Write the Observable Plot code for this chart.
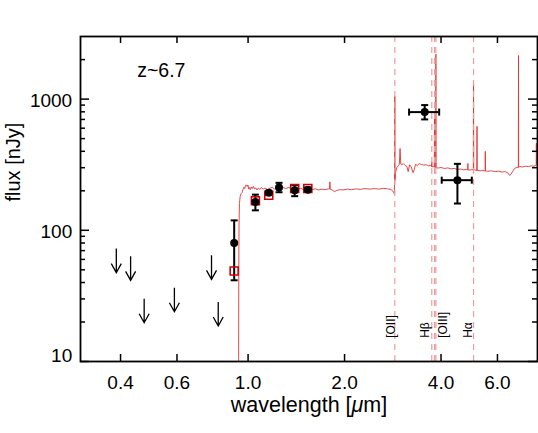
<!DOCTYPE html>
<html><head><meta charset="utf-8">
<script src="https://cdn.jsdelivr.net/npm/d3@7"></script>
<script src="https://cdn.jsdelivr.net/npm/@observablehq/plot@0.6"></script>
<style>body{margin:0;background:#fff;} svg{display:block}</style>
</head><body><div id="chart"></div>
<script>
// ---- data ----
const xTickVals = [0.4, 0.6, 1.0, 2.0, 4.0, 6.0];
const xTickLabels = ["0.4", "0.6", "1.0", "2.0", "4.0", "6.0"];
const yMajor = [10, 100, 1000];
const yMinor = [20, 30, 40, 50, 60, 70, 80, 90, 200, 300, 400, 500, 600, 700, 800, 900, 2000];

const hstWave = [0.905, 1.054, 1.160, 1.249, 1.398, 1.536];
const hstFlux = [80, 164, 193, 212, 202, 204];
const hstLow  = [41.6, 142, 186, 195, 182, 196];
const hstHigh = [119, 187, 200, 230, 221, 212];

const modelWave = [0.905, 1.054, 1.160, 1.398, 1.536];
const modelFlux = [48.9, 168, 185, 208, 208];

const iracWave = [3.557, 4.50];
const iracFlux = [796, 241];
const iracWaveLow = [3.18, 4.02];
const iracWaveHigh = [3.947, 4.99];
const iracLow = [700, 160];
const iracHigh = [900, 321];

const limitWave = [0.388, 0.430, 0.474, 0.589, 0.769, 0.807];
const limitFlux = [72.5, 63.3, 30.1, 36.5, 64.4, 28.4];

const emissionWave = [2.870, 3.743, 3.818, 3.855, 5.053];
const lineLabels = ["[OII]", "Hβ", "[OIII]", "Hα"];
const lineLabelWave = [2.870, 3.743, 3.855, 5.053];

const redshiftLabel = "z~6.7";

// model spectrum [wavelength μm, flux nJy]
const spectrum = [
  [0.900, 0.5], [0.933, 0.5], [0.935, 30], [0.937, 110], [0.940, 160], [0.945, 182],
  [0.951, 190], [0.958, 194], [0.964, 205], [0.970, 213], [0.976, 208], [0.981, 218],
  [0.987, 222], [0.993, 216], [0.999, 221], [1.005, 206], [1.011, 212], [1.017, 204],
  [1.024, 214], [1.031, 208], [1.039, 216], [1.047, 206], [1.056, 211], [1.066, 203],
  [1.077, 210], [1.089, 205], [1.10, 212], [1.115, 206], [1.13, 210], [1.15, 204],
  [1.17, 209], [1.19, 213], [1.21, 206], [1.23, 211], [1.25, 207], [1.28, 213],
  [1.31, 208], [1.34, 212], [1.37, 206], [1.40, 210], [1.43, 205], [1.46, 209],
  [1.50, 203], [1.54, 208], [1.58, 204], [1.62, 207], [1.66, 203], [1.70, 206],
  [1.74, 204], [1.78, 207], [1.795, 206], [1.800, 234], [1.805, 206], [1.83, 203],
  [1.86, 197], [1.89, 201], [1.93, 204], [1.98, 203], [2.04, 206], [2.10, 204],
  [2.17, 207], [2.24, 205], [2.31, 208], [2.40, 206], [2.48, 208], [2.56, 206],
  [2.64, 209], [2.72, 207], [2.79, 205], [2.83, 199], [2.850, 193], [2.860, 190],
  [2.866, 230], [2.870, 1050], [2.874, 240], [2.885, 275], [2.91, 300], [2.94, 310],
  [2.965, 318], [2.980, 420], [2.995, 320], [3.02, 316], [3.05, 323], [3.09, 312],
  [3.13, 306], [3.16, 280], [3.19, 316], [3.23, 304], [3.27, 275], [3.30, 290],
  [3.33, 318], [3.37, 312], [3.42, 322], [3.47, 318], [3.53, 314], [3.60, 316],
  [3.66, 310], [3.71, 312], [3.735, 305], [3.743, 333], [3.751, 305], [3.79, 306],
  [3.812, 304], [3.818, 800], [3.824, 302], [3.848, 302], [3.855, 2200], [3.862, 300],
  [3.92, 298], [4.00, 301], [4.10, 296], [4.20, 299], [4.30, 294], [4.40, 296],
  [4.50, 291], [4.60, 293], [4.70, 289], [4.80, 291], [4.845, 289], [4.851, 323],
  [4.857, 289], [4.93, 288], [5.00, 290], [5.045, 288], [5.053, 1300], [5.060, 292],
  [5.10, 288], [5.172, 286], [5.180, 620], [5.188, 286], [5.30, 284], [5.40, 286],
  [5.490, 283], [5.498, 400], [5.506, 283], [5.60, 282], [5.75, 284], [5.90, 280],
  [6.05, 282], [6.20, 278], [6.35, 280], [6.48, 272], [6.55, 262], [6.62, 268],
  [6.70, 282], [6.78, 296], [6.86, 300], [6.94, 302], [6.972, 300], [6.980, 2150],
  [6.988, 304], [7.05, 306], [7.20, 304], [7.35, 308], [7.50, 306], [7.65, 310],
  [7.80, 308], [7.90, 312], [7.925, 310], [7.935, 460], [7.95, 320]
];

// ---- derived tables ----
const hst = hstWave.map((w, i) => ({w, f: hstFlux[i], lo: hstLow[i], hi: hstHigh[i]}));
const model = modelWave.map((w, i) => ({w, f: modelFlux[i]}));
const irac = iracWave.map((w, i) => ({w, f: iracFlux[i], wlo: iracWaveLow[i], whi: iracWaveHigh[i], lo: iracLow[i], hi: iracHigh[i]}));
const limits = limitWave.map((w, i) => ({w, f: limitFlux[i]}));

// ---- symbols (pixel shapes) ----
const capH = {draw(c) { c.moveTo(-3.5, 0); c.lineTo(3.5, 0); }};
const capV = {draw(c) { c.moveTo(0, -3.5); c.lineTo(0, 3.5); }};
const square = {draw(c) { c.moveTo(-4, -4); c.lineTo(4, -4); c.lineTo(4, 4); c.lineTo(-4, 4); c.closePath(); }};
const downArrow = {draw(c) { c.moveTo(0, 0); c.lineTo(0, 24); c.moveTo(-5, 15); c.lineTo(0, 24); c.lineTo(5, 15); }};

const FONT = "'Liberation Sans', Arial, Helvetica, sans-serif";
const RED = "#de3535";
const DASH = "#ec9c9c";
const plotW = 457, plotH = 325;

const labelDx = {"[OII]": 0, "Hβ": -2.3, "[OIII]": 11.4, "Hα": -1.4};

const chart = Plot.plot({
  width: 538,
  height: 433,
  marginLeft: 80,
  marginRight: 1,
  marginTop: 36,
  marginBottom: 72,
  style: {fontFamily: FONT, background: "white", color: "black"},
  x: {type: "log", domain: [0.3, 8], axis: null},
  y: {type: "log", domain: [10, 3000], axis: null},
  marks: [
    // spectrum
    Plot.line(spectrum, {x: d => d[0], y: d => d[1], stroke: RED, strokeWidth: 0.9, clip: true}),
    // emission line markers
    Plot.ruleX(emissionWave, {x: d => d, stroke: DASH, strokeWidth: 1.2, strokeDasharray: "6,5"}),
    ...lineLabels.map((t, i) => Plot.text([t], {
      x: [lineLabelWave[i]], text: d => d, frameAnchor: "bottom", dy: -23.7, dx: labelDx[t],
      rotate: -90, textAnchor: "start", lineAnchor: "bottom", fontSize: 12, fill: "black"
    })),
    // upper limits
    Plot.dot(limits, {x: "w", y: "f", symbol: downArrow, fill: "none", stroke: "black", strokeWidth: 1.3}),
    // HST error bars
    Plot.ruleX(hst, {x: "w", y1: "lo", y2: "hi", stroke: "black", strokeWidth: 2}),
    Plot.dot(hst, {x: "w", y: "lo", symbol: capH, fill: "none", stroke: "black", strokeWidth: 2}),
    Plot.dot(hst, {x: "w", y: "hi", symbol: capH, fill: "none", stroke: "black", strokeWidth: 2}),
    // model photometry
    Plot.dot(model, {x: "w", y: "f", symbol: square, fill: "none", stroke: "#cc0000", strokeWidth: 1.6}),
    Plot.dot(hst, {x: "w", y: "f", r: 4, fill: "black", stroke: "none"}),
    // IRAC
    Plot.ruleX(irac, {x: "w", y1: "lo", y2: "hi", stroke: "black", strokeWidth: 2}),
    Plot.ruleY(irac, {y: "f", x1: "wlo", x2: "whi", stroke: "black", strokeWidth: 2}),
    Plot.dot(irac, {x: "w", y: "lo", symbol: capH, fill: "none", stroke: "black", strokeWidth: 2}),
    Plot.dot(irac, {x: "w", y: "hi", symbol: capH, fill: "none", stroke: "black", strokeWidth: 2}),
    Plot.dot(irac, {x: "wlo", y: "f", symbol: capV, fill: "none", stroke: "black", strokeWidth: 2}),
    Plot.dot(irac, {x: "whi", y: "f", symbol: capV, fill: "none", stroke: "black", strokeWidth: 2}),
    Plot.dot(irac, {x: "w", y: "f", r: 4, fill: "black", stroke: "none"}),
    // ticks
    Plot.tickX(xTickVals, {x: d => d, insetTop: plotH - 7, stroke: "black", strokeWidth: 1.5}),
    Plot.tickX(xTickVals, {x: d => d, insetBottom: plotH - 7, stroke: "black", strokeWidth: 1.5}),
    Plot.tickY(yMajor, {y: d => d, insetRight: plotW - 9, stroke: "black", strokeWidth: 1.5}),
    Plot.tickY(yMinor, {y: d => d, insetRight: plotW - 5, stroke: "black", strokeWidth: 1.5}),
    Plot.tickY(yMajor, {y: d => d, insetLeft: plotW - 9, stroke: "black", strokeWidth: 1.5}),
    Plot.tickY(yMinor, {y: d => d, insetLeft: plotW - 5, stroke: "black", strokeWidth: 1.5}),
    Plot.frame({stroke: "black", strokeWidth: 1.8}),
    // tick labels
    Plot.text(xTickVals, {x: d => d, text: (d, i) => xTickLabels[i], frameAnchor: "bottom", dy: 27.3, lineAnchor: "bottom", fontSize: 19, fill: "black"}),
    Plot.text(yMajor.slice(1), {y: d => d, text: d => String(d), frameAnchor: "left", textAnchor: "end", dx: -8.3, dy: 8.1, lineAnchor: "bottom", fontSize: 19, fill: "black"}),
    Plot.text(yMajor.slice(0, 1), {y: d => d, text: d => String(d), frameAnchor: "left", textAnchor: "end", dx: -8.3, dy: 0.7, lineAnchor: "bottom", fontSize: 19, fill: "black"}),
    // annotations / titles
    Plot.text([redshiftLabel], {text: d => d, frameAnchor: "top-left", dx: 56.7, dy: 40, textAnchor: "start", lineAnchor: "bottom", fontSize: 19.5, fill: "black"}),
    Plot.text(["wavelength [μm]"], {text: d => d, frameAnchor: "bottom", dy: 50.5, lineAnchor: "bottom", fontSize: 21.5, fill: "black"}),
    Plot.text(["flux [nJy]"], {text: d => d, frameAnchor: "left", dx: -61, dy: 2.5, rotate: -90, lineAnchor: "bottom", fontSize: 20, fill: "black"})
  ]
});

// italic μ in the x-axis title
chart.querySelectorAll("text, tspan").forEach(el => {
  if (el.childElementCount === 0 && el.textContent === "wavelength [μm]") {
    el.textContent = "";
    const ns = "http://www.w3.org/2000/svg";
    const parts = [["wavelength [", false], ["μ", true], ["m]", false]];
    for (const [s, it] of parts) {
      const t = document.createElementNS(ns, "tspan");
      t.textContent = s;
      if (it) t.setAttribute("font-style", "italic");
      el.appendChild(t);
    }
  }
});

document.getElementById("chart").appendChild(chart);
</script></body></html>
